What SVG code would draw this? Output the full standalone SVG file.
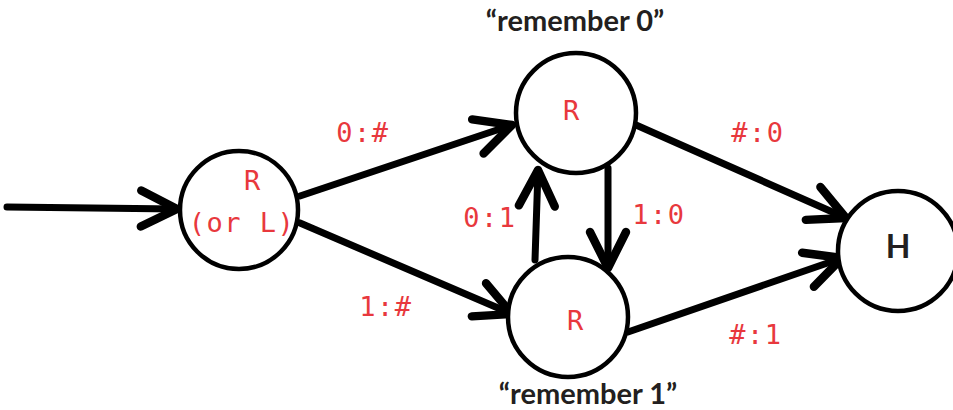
<svg xmlns="http://www.w3.org/2000/svg" width="953" height="410" viewBox="0 0 953 410">
<style>
.node{fill:#fff;stroke:#000;stroke-width:4.5}
.edge{fill:none;stroke:#000;stroke-width:7;stroke-linecap:round}
.lbl{font-family:"DejaVu Sans Mono","Liberation Mono",monospace;font-size:27px;letter-spacing:1.5px;fill:#e8383d;text-anchor:middle}
.cap{font-family:Lato,"Open Sans",sans-serif;font-weight:bold;font-size:29px;fill:#231f20;text-anchor:middle}
</style>
<defs>
<marker id="arr" markerUnits="userSpaceOnUse" orient="auto" refX="0" refY="0" markerWidth="60" markerHeight="60" viewBox="-40 -25 50 50" overflow="visible">
<path d="M-30,-15 L0,0 L-30,15" fill="none" stroke="#000" stroke-width="7" stroke-linecap="round" stroke-linejoin="round"/>
</marker>
</defs>
<g id="connectors">
<path class="edge" d="M7,207 L177,209" marker-end="url(#arr)"/>
<path class="edge" d="M300,196 L512,125" marker-end="url(#arr)"/>
<path class="edge" d="M300,223 L512,314" marker-end="url(#arr)"/>
<path class="edge" d="M636,125 L846,218" marker-end="url(#arr)"/>
<path class="edge" d="M628,332 L842,258" marker-end="url(#arr)"/>
<path class="edge" d="M535,260 L538,170" marker-end="url(#arr)"/>
<path class="edge" d="M608,168 L608,268" marker-end="url(#arr)"/>
<text class="lbl" x="363" y="142">0:#</text>
<text class="lbl" x="386" y="316">1:#</text>
<text class="lbl" x="490" y="227">0:1</text>
<text class="lbl" x="659" y="224">1:0</text>
<text class="lbl" x="758" y="142">#:0</text>
<text class="lbl" x="756" y="344">#:1</text>
</g>
<g id="start">
<circle class="node" cx="239" cy="210" r="59"/>
<text class="lbl" x="253" y="190">R</text>
<text class="lbl" x="242" y="232">(or L)</text>
</g>
<g id="rem0">
<circle class="node" cx="576" cy="113" r="60"/>
<text class="lbl" x="572" y="120">R</text>
<text class="cap" x="575" y="31">“remember 0”</text>
</g>
<g id="rem1">
<circle class="node" cx="568" cy="317" r="60"/>
<text class="lbl" x="576" y="330">R</text>
<text class="cap" x="588" y="404">“remember 1”</text>
</g>
<g id="halt">
<circle class="node" cx="898" cy="251" r="60"/>
<text class="cap" x="898" y="258" style="font-size:32px">H</text>
</g>
</svg>
